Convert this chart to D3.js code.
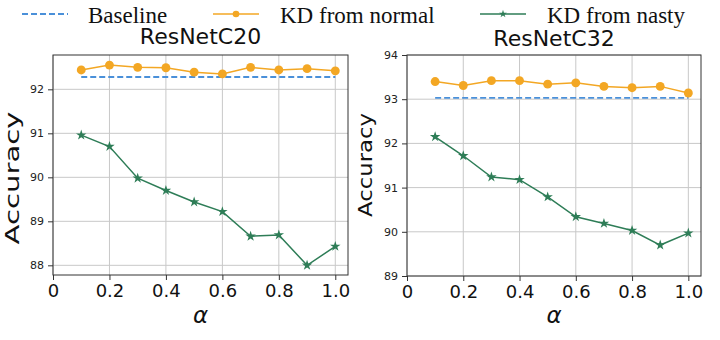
<!DOCTYPE html>
<html>
<head>
<meta charset="utf-8">
<script src="https://cdn.jsdelivr.net/npm/d3@7"></script>
<style>
  body { margin: 0; background: #fff; }
  svg { display: block; }
  .grid line { stroke: #c8c8c8; stroke-width: 1; }
  .tick line { stroke: #333; }
  .domain { display: none; }
</style>
</head>
<body>
<div id="chart"></div>
<script>
// alpha values on the x axis
const alphas = [0.1, 0.2, 0.3, 0.4, 0.5, 0.6, 0.7, 0.8, 0.9, 1.0];
const xTicks = [0, 0.2, 0.4, 0.6, 0.8, 1.0];
const xTickLabels = ["0", "0.2", "0.4", "0.6", "0.8", "1.0"];

// ResNetC20
const c20Baseline = 92.28;
const c20Normal = [92.44, 92.55, 92.50, 92.49, 92.39, 92.35, 92.50, 92.44, 92.47, 92.42];
const c20Nasty = [90.96, 90.70, 89.98, 89.70, 89.44, 89.22, 88.66, 88.69, 88.00, 88.43];
const c20YTicks = [88, 89, 90, 91, 92];

// ResNetC32
const c32Baseline = 93.03;
const c32Normal = [93.40, 93.31, 93.42, 93.42, 93.34, 93.37, 93.29, 93.26, 93.29, 93.14];
const c32Nasty = [92.15, 91.72, 91.24, 91.18, 90.79, 90.34, 90.19, 90.03, 89.70, 89.97];
const c32YTicks = [89, 90, 91, 92, 93, 94];

const legendLabels = ["Baseline", "KD from normal", "KD from nasty"];
const colors = {base: "#4a90d9", normal: "#f3a724", nasty: "#2e7d57"};

const svg = d3.select("#chart").append("svg")
  .attr("width", 720)
  .attr("height", 340);

// panel layout (pixels)
const panels = [
  {title: "ResNetC20", base: c20Baseline, normal: c20Normal, nasty: c20Nasty, yTicks: c20YTicks,
   yDomain: [87.78, 92.78], left: 53, right: 348, top: 55, bottom: 275, titleY: 44,
   labelX: 19, labelY: 178, labelLen: 133},
  {title: "ResNetC32", base: c32Baseline, normal: c32Normal, nasty: c32Nasty, yTicks: c32YTicks,
   yDomain: [89, 94], left: 407, right: 701, top: 55, bottom: 276, titleY: 46,
   labelX: 372, labelY: 165, labelLen: 104}
];

const star = d3.symbol().type(d3.symbolStar).size(34);
const dot = d3.symbol().type(d3.symbolCircle).size(62);

panels.forEach(p => {
  const x = d3.scaleLinear().domain([0, 1.045]).range([p.left, p.right]);
  const y = d3.scaleLinear().domain(p.yDomain).range([p.bottom, p.top]);
  const g = svg.append("g");

  // grid
  const grid = g.append("g").attr("class", "grid");
  grid.selectAll(".vx").data(xTicks).enter().append("line")
    .attr("x1", d => x(d)).attr("x2", d => x(d))
    .attr("y1", p.top).attr("y2", p.bottom);
  grid.selectAll(".hy").data(p.yTicks).enter().append("line")
    .attr("x1", p.left).attr("x2", p.right)
    .attr("y1", d => y(d)).attr("y2", d => y(d));

  // axes
  g.append("g")
    .attr("transform", "translate(" + p.left + ",0)")
    .call(d3.axisLeft(y).tickValues(p.yTicks).tickSize(5).tickPadding(4).tickFormat(d3.format("d")))
    .call(a => a.selectAll("text").attr("font-family", "DejaVu Sans").attr("font-size", 11).attr("fill", "#222"));
  g.append("g")
    .attr("transform", "translate(0," + p.bottom + ")")
    .call(d3.axisBottom(x).tickValues(xTicks).tickSize(5).tickPadding(4).tickFormat((d, i) => xTickLabels[i]))
    .call(a => a.selectAll("text").attr("font-family", "DejaVu Sans").attr("font-size", 18).attr("fill", "#111"));

  // frame
  g.append("rect")
    .attr("x", p.left).attr("y", p.top)
    .attr("width", p.right - p.left).attr("height", p.bottom - p.top)
    .attr("fill", "none").attr("stroke", "#333").attr("stroke-width", 1);

  // baseline
  g.append("line")
    .attr("x1", x(alphas[0])).attr("x2", x(alphas[alphas.length - 1]))
    .attr("y1", y(p.base)).attr("y2", y(p.base))
    .attr("stroke", colors.base).attr("stroke-width", 1.8)
    .attr("stroke-dasharray", "6,3");

  const line = d3.line().x((d, i) => x(alphas[i])).y(d => y(d));

  g.append("path").datum(p.normal)
    .attr("d", line).attr("fill", "none")
    .attr("stroke", colors.normal).attr("stroke-width", 1.5);
  g.selectAll(".dot").data(p.normal).enter().append("path")
    .attr("d", dot)
    .attr("transform", (d, i) => "translate(" + x(alphas[i]) + "," + y(d) + ")")
    .attr("fill", colors.normal);

  g.append("path").datum(p.nasty)
    .attr("d", line).attr("fill", "none")
    .attr("stroke", colors.nasty).attr("stroke-width", 1.5);
  g.selectAll(".star").data(p.nasty).enter().append("path")
    .attr("d", star)
    .attr("transform", (d, i) => "translate(" + x(alphas[i]) + "," + y(d) + ")")
    .attr("fill", colors.nasty);

  // title and labels
  const cx = (p.left + p.right) / 2;
  g.append("text").text(p.title)
    .attr("x", cx).attr("y", p.titleY)
    .attr("text-anchor", "middle")
    .attr("font-family", "DejaVu Sans").attr("font-size", 22).attr("fill", "#111");
  g.append("text").text("α")
    .attr("x", cx).attr("y", 323)
    .attr("text-anchor", "middle")
    .attr("font-family", "DejaVu Sans").attr("font-style", "italic")
    .attr("font-size", 23).attr("fill", "#111");
  g.append("text").text("Accuracy")
    .attr("transform", "translate(" + p.labelX + "," + p.labelY + ") rotate(-90)")
    .attr("text-anchor", "middle")
    .attr("textLength", p.labelLen).attr("lengthAdjust", "spacingAndGlyphs")
    .attr("font-family", "DejaVu Sans").attr("font-size", 20).attr("fill", "#111");
});

// legend
const legend = svg.append("g").attr("font-family", "Liberation Serif").attr("font-size", 23);
const items = [
  {x: 22, text: legendLabels[0], color: colors.base, dash: "6,3", marker: null, tx: 88},
  {x: 213, text: legendLabels[1], color: colors.normal, dash: null, marker: dot, tx: 280},
  {x: 480, text: legendLabels[2], color: colors.nasty, dash: null, marker: star, tx: 547}
];
items.forEach(it => {
  legend.append("line")
    .attr("x1", it.x).attr("x2", it.x + 46)
    .attr("y1", 14).attr("y2", 14)
    .attr("stroke", it.color).attr("stroke-width", it.dash ? 1.8 : 1.5)
    .attr("stroke-dasharray", it.dash);
  if (it.marker) {
    legend.append("path").attr("d", it.marker)
      .attr("transform", "translate(" + (it.x + 23) + ",14) scale(0.75)")
      .attr("fill", it.color);
  }
  legend.append("text").text(it.text)
    .attr("x", it.tx).attr("y", 23).attr("fill", "#111");
});
</script>
</body>
</html>
